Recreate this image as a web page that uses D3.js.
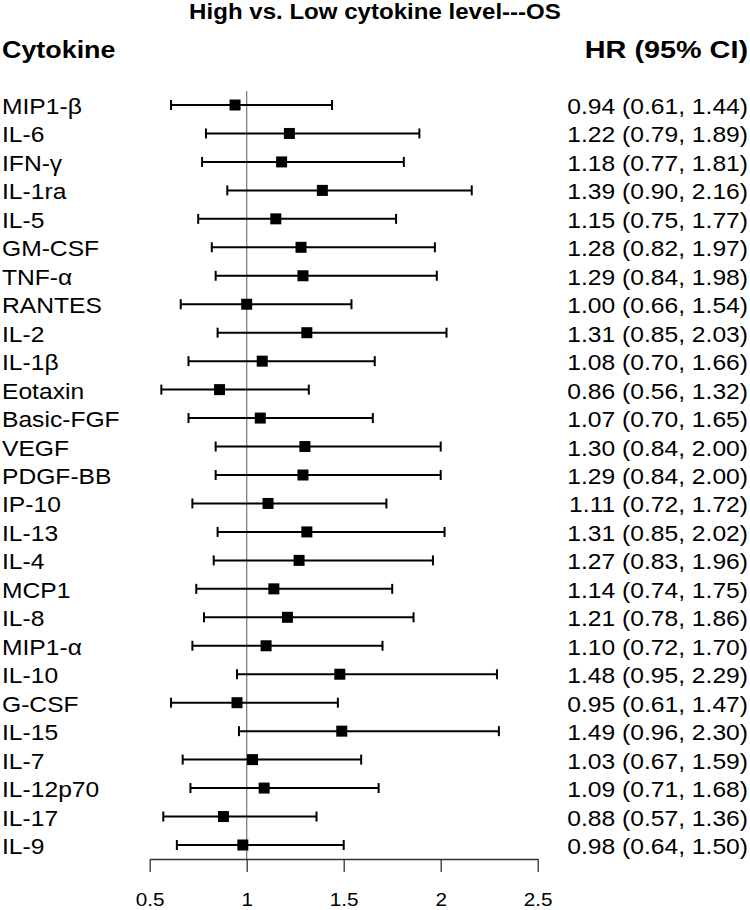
<!DOCTYPE html>
<html>
<head>
<meta charset="utf-8">
<script src="https://cdn.jsdelivr.net/npm/d3@7"></script>
<style>
  html, body { margin: 0; padding: 0; background: #fff; }
  svg { display: block; font-family: "Liberation Sans", Arial, sans-serif; }
</style>
</head>
<body>
<svg id="chart" width="750" height="910"></svg>
<script>
const cytokines = ["MIP1-β","IL-6","IFN-γ","IL-1ra","IL-5","GM-CSF","TNF-α","RANTES","IL-2","IL-1β","Eotaxin","Basic-FGF","VEGF","PDGF-BB","IP-10","IL-13","IL-4","MCP1","IL-8","MIP1-α","IL-10","G-CSF","IL-15","IL-7","IL-12p70","IL-17","IL-9"];
const hr    = [0.94,1.22,1.18,1.39,1.15,1.28,1.29,1.00,1.31,1.08,0.86,1.07,1.30,1.29,1.11,1.31,1.27,1.14,1.21,1.10,1.48,0.95,1.49,1.03,1.09,0.88,0.98];
const lower = [0.61,0.79,0.77,0.90,0.75,0.82,0.84,0.66,0.85,0.70,0.56,0.70,0.84,0.84,0.72,0.85,0.83,0.74,0.78,0.72,0.95,0.61,0.96,0.67,0.71,0.57,0.64];
const upper = [1.44,1.89,1.81,2.16,1.77,1.97,1.98,1.54,2.03,1.66,1.32,1.65,2.00,2.00,1.72,2.02,1.96,1.75,1.86,1.70,2.29,1.47,2.30,1.59,1.68,1.36,1.50];
const tickValues = [0.5, 1, 1.5, 2, 2.5];
const title = "High vs. Low cytokine level---OS";

const rows = cytokines.map((c, i) => ({name: c, hr: hr[i], lo: lower[i], hi: upper[i]}));
const svg = d3.select("#chart");
const SX = 1.12;

const x = d3.scaleLinear().domain([0.5, 2.5]).range([149.7, 537.7]);
const y = d3.scalePoint().domain(cytokines).range([105, 845]);

function txt(g, xx, yy, s, size, weight, anchor, sx) {
  return g.append("text")
    .attr("transform", `translate(${xx},${yy}) scale(${sx || SX},1)`)
    .attr("font-size", size).attr("font-weight", weight)
    .attr("text-anchor", anchor).attr("fill", "#000").text(s);
}

// title and headers
txt(svg, 375, 19, title, 21.5, "bold", "middle");
txt(svg, 2, 58, "Cytokine", 24, "bold", "start");
txt(svg, 748, 58, "HR (95% CI)", 24, "bold", "end", 1.2);

// reference line at HR = 1
svg.append("line")
  .attr("x1", x(1)).attr("x2", x(1))
  .attr("y1", 91).attr("y2", 859)
  .attr("stroke", "#777").attr("stroke-width", 1.2);

// rows
const g = svg.append("g");
const row = g.selectAll("g.row").data(rows).join("g").attr("class", "row");
row.append("line")
  .attr("x1", d => x(d.lo)).attr("x2", d => x(d.hi))
  .attr("y1", d => y(d.name)).attr("y2", d => y(d.name))
  .attr("stroke", "#000").attr("stroke-width", 2);
row.append("line")
  .attr("x1", d => x(d.lo)).attr("x2", d => x(d.lo))
  .attr("y1", d => y(d.name) - 5).attr("y2", d => y(d.name) + 5)
  .attr("stroke", "#000").attr("stroke-width", 2);
row.append("line")
  .attr("x1", d => x(d.hi)).attr("x2", d => x(d.hi))
  .attr("y1", d => y(d.name) - 5).attr("y2", d => y(d.name) + 5)
  .attr("stroke", "#000").attr("stroke-width", 2);
row.append("rect")
  .attr("x", d => x(d.hr) - 5.5).attr("y", d => y(d.name) - 5.5)
  .attr("width", 11).attr("height", 11).attr("fill", "#000");

row.each(function(d) {
  const r = d3.select(this);
  txt(r, 2, y(d.name) + 9, d.name, 22, "normal", "start");
  txt(r, 748, y(d.name) + 9,
      `${d.hr.toFixed(2)} (${d.lo.toFixed(2)}, ${d.hi.toFixed(2)})`, 22, "normal", "end");
});

// axis
const ax = svg.append("g").attr("transform", "translate(0,859)");
ax.call(d3.axisBottom(x).tickValues(tickValues).tickFormat(d3.format("")).tickSize(13).tickSizeOuter(0));
ax.select(".domain").attr("stroke", "#333").attr("stroke-width", 1.3);
ax.selectAll(".tick line").attr("stroke", "#333").attr("stroke-width", 1.3);
ax.selectAll(".tick text").remove();
ax.selectAll(".tick").each(function(d) {
  txt(d3.select(this), 0, 47, d3.format("")(d), 18.5, "normal", "middle");
});
</script>
</body>
</html>
